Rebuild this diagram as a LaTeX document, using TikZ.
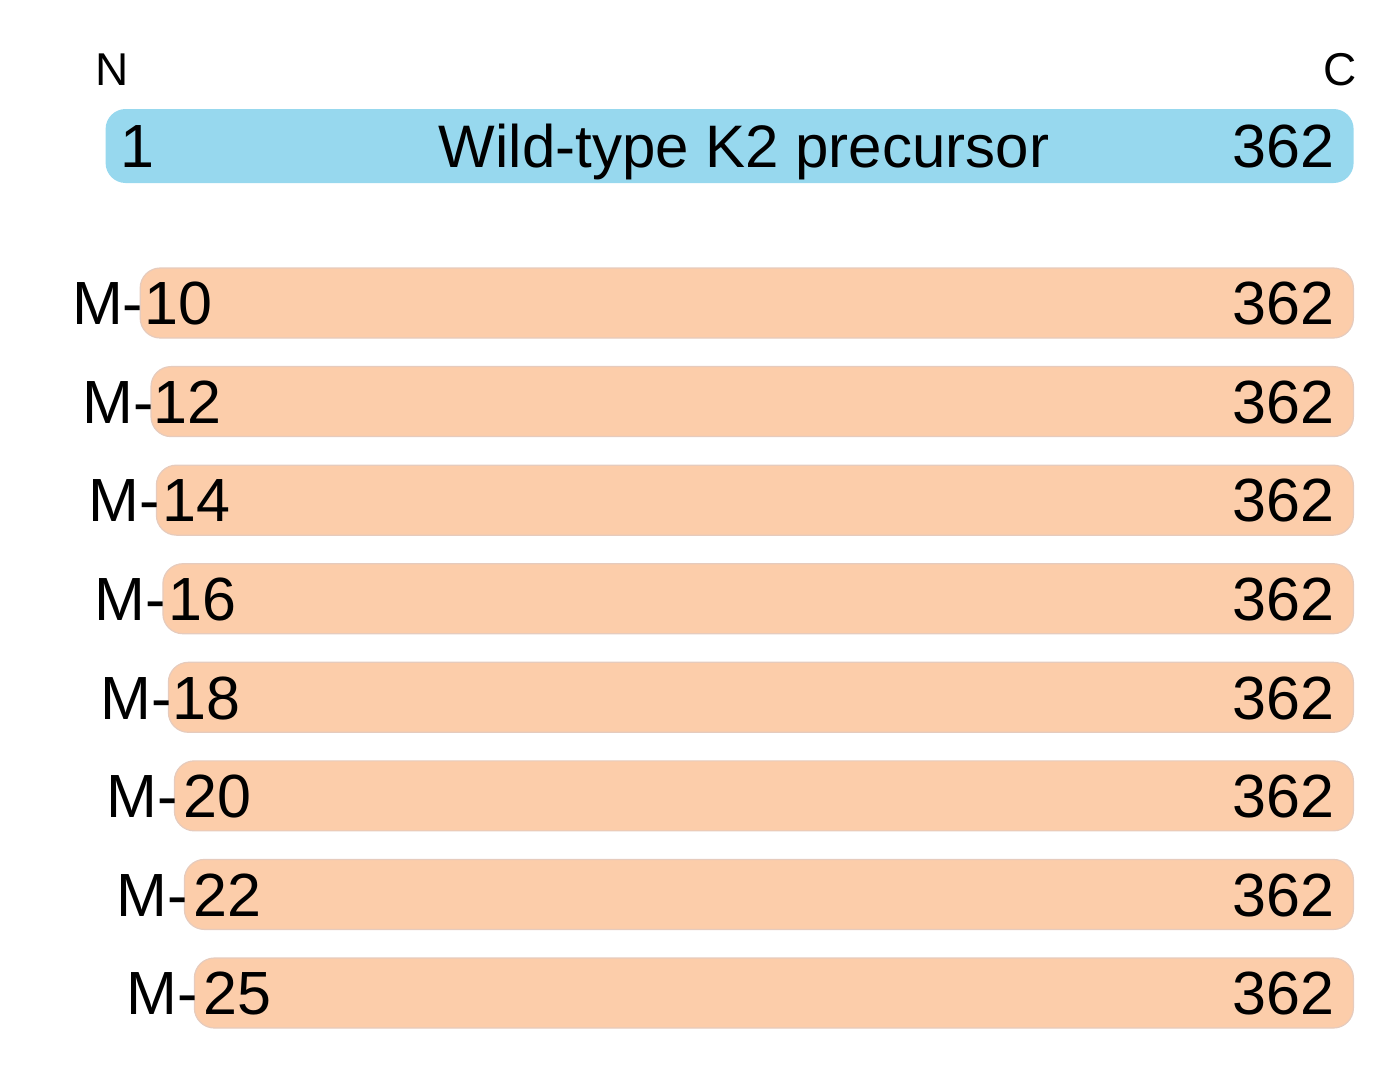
\documentclass[tikz,border=0pt]{standalone}
\usepackage{fontspec}
\setmainfont{Liberation Sans}
\usetikzlibrary{positioning}
\definecolor{wtblue}{HTML}{97D8EE}
\definecolor{mutfill}{HTML}{FCCDAA}
\definecolor{mutedge}{HTML}{E6CBBD}

\begin{document}
\begin{tikzpicture}[
    x=1pt,
    y=1pt,
    bar/.style = {
        rectangle,
        rounded corners=10pt,
        inner sep=0pt,
        minimum height=35pt,
        anchor=east
    },
    wtbar/.style = {
        bar,
        fill=wtblue,
        minimum height=37pt
    },
    mutbar/.style = {
        bar,
        fill=mutfill,
        draw=mutedge,
        line width=0.6pt
    },
    num/.style = {
        inner sep=0pt,
        font=\fontsize{30.5}{36}\selectfont,
        text height=21.8pt,
        text depth=0pt
    },
    term/.style = {
        inner sep=0pt,
        font=\fontsize{23}{27}\selectfont,
        text height=16.5pt,
        text depth=0pt
    },
]
    \def\barend{677}
    \def\rowsep{49.286}

    \useasboundingbox (0,0) rectangle (696,-539);

    % Wild-type precursor
    \node [wtbar, minimum width=624pt] (wt) at (\barend,-73) {};
    \node [num, anchor=west] (wt_start) at ([xshift=7.5pt]wt.west) {1};
    \node [num, anchor=east] (wt_end) at ([xshift=-9.5pt]wt.east) {362};
    \node [num, font=\fontsize{30}{36}\selectfont] (wt_name) at (372,-73)
        {Wild-type K2 precursor};

    \node [term, anchor=west] (n_term) at (47.4,-34.4) {N};
    \node [term, anchor=east] (c_term) at (678.5,-34.4) {C};

    % Truncated mutants
    \foreach \res/\lx/\dx [count=\i from 0] in
        {10/70.4/2.25, 12/75.8/1.25, 14/78.5/3.25, 16/81.75/2.75,
         18/84.5/2.25, 20/87.5/4.75, 22/92.5/4.75, 25/97.5/4.75} {
        \node [mutbar, minimum width={(\barend-\lx)*1pt}]
            (m\res) at (\barend,{-151.5-\rowsep*\i}) {};
        \node [num, anchor=east] (m\res_prefix)
            at ([xshift=2pt]m\res.west) {M-};
        \node [num, anchor=west] (m\res_start)
            at ([xshift=\dx pt]m\res.west) {\res};
        \node [num, anchor=east] (m\res_end)
            at ([xshift=-9.5pt]m\res.east) {362};
    }
\end{tikzpicture}
\end{document}
